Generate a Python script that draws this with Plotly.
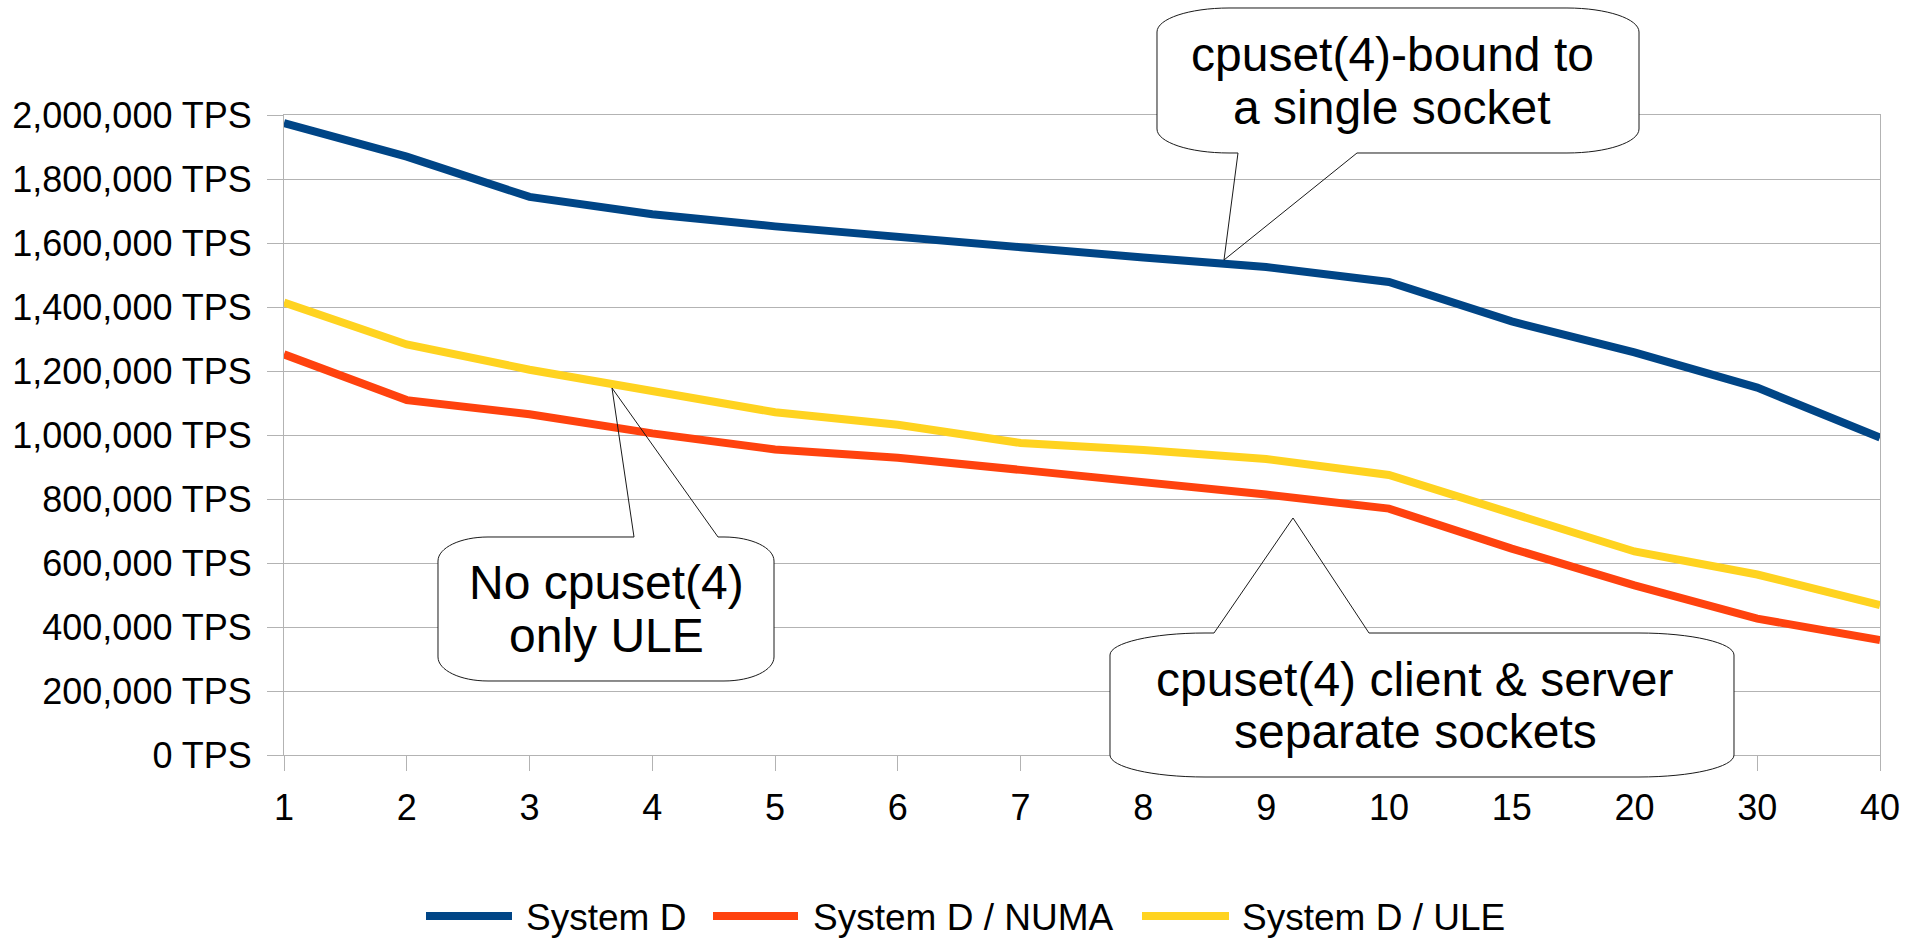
import plotly.graph_objects as go

# ---------------- data ----------------
categories = ["1", "2", "3", "4", "5", "6", "7", "8", "9", "10", "15", "20", "30", "40"]
system_d = [1975000, 1870000, 1744000, 1690000, 1652000, 1617000, 1587000,
            1555000, 1525000, 1478000, 1355000, 1258000, 1148000, 992000]
system_d_numa = [1252000, 1109000, 1065000, 1005000, 955000, 929000, 891000,
                 853000, 814000, 770000, 645000, 530000, 426000, 359000]
system_d_ule = [1414000, 1283000, 1204000, 1138000, 1071000, 1032000, 975000,
                953000, 925000, 875000, 755000, 636000, 564000, 468000]
series_names = ["System D", "System D / NUMA", "System D / ULE"]
series_colors = ["#004586", "#ff420e", "#ffd320"]
y_ticks = [0, 200000, 400000, 600000, 800000, 1000000, 1200000, 1400000,
           1600000, 1800000, 2000000]
y_tick_text = [f"{v:,} TPS" for v in y_ticks]
callout_texts = [
    ["cpuset(4)-bound to", "a single socket"],
    ["No cpuset(4)", "only ULE"],
    ["cpuset(4) client & server", "separate sockets"],
]

# ---------------- layout geometry (pixels) ----------------
W, H = 1919, 939
ML, MR, MT, MB = 284, 39, 115, 184
PW, PH = W - ML - MR, H - MT - MB
FONT = "Liberation Sans, Arial, Helvetica, sans-serif"
GRID = "#b3b3b3"


def px(X):
    return (X - ML) / PW


def py(Y):
    return (MT + PH - Y) / PH


fig = go.Figure()
for name, vals, col in zip(series_names, [system_d, system_d_numa, system_d_ule], series_colors):
    fig.add_trace(go.Scatter(
        x=categories, y=vals, name=name, mode="lines",
        line=dict(color=col, width=8), showlegend=False,
    ))

# ---------------- callouts ----------------
K = 0.5523


def pt(X, Y):
    return f"{px(X):.5f},{py(Y):.5f}"


def box_segments(x0, y0, x1, y1, rx, ry):
    return {
        "tl_end": (x0 + rx, y0),
        "tr": [(x1 - rx, y0), (x1 - rx + K * rx, y0), (x1, y0 + ry - K * ry), (x1, y0 + ry)],
        "br": [(x1, y1 - ry), (x1, y1 - ry + K * ry), (x1 - rx + K * rx, y1), (x1 - rx, y1)],
        "bl": [(x0 + rx, y1), (x0 + rx - K * rx, y1), (x0, y1 - ry + K * ry), (x0, y1 - ry)],
        "tl": [(x0, y0 + ry), (x0, y0 + ry - K * ry), (x0 + rx - K * rx, y0), (x0 + rx, y0)],
    }


def corner(c):
    return f" L{pt(*c[0])} C{pt(*c[1])} {pt(*c[2])} {pt(*c[3])}"


def callout(x0, y0, x1, y1, rx, ry, bl, br, tip, side):
    s = box_segments(x0, y0, x1, y1, rx, ry)
    fill = f"M{pt(*s['tl_end'])}" + corner(s["tr"]) + corner(s["br"]) + corner(s["bl"]) + corner(s["tl"]) + " Z"
    if side == "top":
        outline = f"M{pt(br, y0)}" + corner(s["tr"]) + corner(s["br"]) + corner(s["bl"]) + corner(s["tl"]) \
            + f" L{pt(bl, y0)} L{pt(*tip)} Z"
    else:
        outline = f"M{pt(bl, y1)}" + corner(s["bl"]) + corner(s["tl"]) + corner(s["tr"]) + corner(s["br"]) \
            + f" L{pt(br, y1)} L{pt(*tip)} Z"
    fig.add_shape(type="path", path=fill, xref="paper", yref="paper",
                  fillcolor="white", line=dict(width=0), layer="above")
    fig.add_shape(type="path", path=outline, xref="paper", yref="paper",
                  fillcolor="rgba(0,0,0,0)", line=dict(color="#1a1a1a", width=1), layer="above")


callout(1157, 8, 1639, 153, 72, 24, 1238, 1357, (1224, 260), "bottom")
callout(438, 537, 774, 681, 50, 24, 634, 718, (612, 388), "top")
callout(1110, 633, 1734, 777, 95, 22, 1214, 1369, (1293, 518), "top")

text_pos = [(1392, [54, 107]), (606, [582, 635]), (1415, [679, 731])]
for (cx, ys), lines in zip(text_pos, callout_texts):
    for yy, t in zip(ys, lines):
        fig.add_annotation(text=t, x=px(cx), y=py(yy), xref="paper", yref="paper",
                           xanchor="center", yanchor="middle", showarrow=False,
                           font=dict(family=FONT, size=48, color="black"))

# ---------------- legend (drawn) ----------------
legend_lines = [(426, 512), (713, 798), (1142, 1229)]
legend_text_x = [524, 811, 1240]
for (a, b), tx, name, col in zip(legend_lines, legend_text_x, series_names, series_colors):
    fig.add_shape(type="line", x0=px(a), x1=px(b), y0=py(916), y1=py(916),
                  xref="paper", yref="paper", line=dict(color=col, width=8))
    fig.add_annotation(text=name, x=px(tx), y=py(917), xref="paper", yref="paper",
                       xanchor="left", yanchor="middle", showarrow=False,
                       font=dict(family=FONT, size=37, color="black"))

fig.update_layout(
    width=W, height=H,
    margin=dict(l=ML, r=MR, t=MT, b=MB, pad=0),
    paper_bgcolor="white", plot_bgcolor="white",
    font=dict(family=FONT, color="black"),
    showlegend=False,
    xaxis=dict(
        type="category", categoryorder="array", categoryarray=categories,
        range=[0, len(categories) - 1], showgrid=False, zeroline=False,
        showline=True, mirror=True, linecolor=GRID, linewidth=1,
        ticks="outside", ticklen=15, tickcolor=GRID, tickwidth=1,
        tickfont=dict(family=FONT, size=36, color="black"),
        ticklabelstandoff=6,
    ),
    yaxis=dict(
        range=[0, 2000000], tickmode="array", tickvals=y_ticks, ticktext=y_tick_text,
        showgrid=True, gridcolor=GRID, gridwidth=1, zeroline=False,
        showline=True, mirror=True, linecolor=GRID, linewidth=1,
        ticks="outside", ticklen=16, tickcolor=GRID, tickwidth=1,
        tickfont=dict(family=FONT, size=36, color="black"),
        ticklabelstandoff=8,
    ),
)

fig.write_html("out.html")
